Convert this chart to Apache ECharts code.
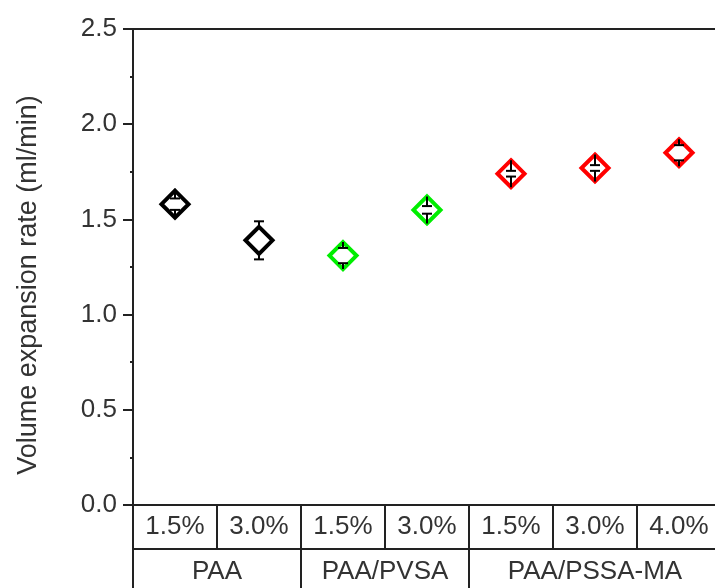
<!DOCTYPE html>
<html>
<head>
<meta charset="utf-8">
<script src="https://cdn.jsdelivr.net/npm/echarts@6/dist/echarts.min.js"></script>
<style>
  html, body { margin: 0; padding: 0; background: #ffffff; }
  #chart { width: 715px; height: 588px; }
</style>
</head>
<body>
<div id="chart"></div>
<script>
// Polymer concentration per sample (first table row)
const concentrations = ['1.5%', '3.0%', '1.5%', '3.0%', '1.5%', '3.0%', '4.0%'];
// Polymer groups (second table row) and how many samples each spans
const groups = ['PAA', 'PAA/PVSA', 'PAA/PSSA-MA'];
const groupSizes = [2, 2, 3];
// Volume expansion rate (ml/min) and its error
const rates = [1.58, 1.39, 1.31, 1.55, 1.74, 1.77, 1.85];
const rateErrors = [0.03, 0.10, 0.04, 0.02, 0.015, 0.015, 0.04];
// Y axis ticks
const yTickValues = [0, 0.5, 1.0, 1.5, 2.0, 2.5];

const groupColors = ['#000000', '#00ee00', '#ff0000'];
const FONT = 'Liberation Sans';
const TEXT_COLOR = '#333333';
const LINE_COLOR = '#222222';
const SYMBOL = 27;

// which group each sample belongs to
const groupOf = [];
groupSizes.forEach((n, g) => { for (let i = 0; i < n; i++) groupOf.push(g); });

const points = rates.map((v, i) => ({
  value: [i, v],
  itemStyle: { borderColor: groupColors[groupOf[i]] }
}));
const errorData = rates.map((v, i) => [i, v, rateErrors[i]]);

const chart = echarts.init(document.getElementById('chart'), null, { renderer: 'canvas' });

chart.setOption({
  animation: false,
  backgroundColor: '#ffffff',
  grid: {
    left: 133, right: -6, top: 29, bottom: 83,
    show: true, borderColor: LINE_COLOR, borderWidth: 2,
    containLabel: false, outerBoundsMode: 'none'
  },
  xAxis: {
    type: 'category',
    data: concentrations,
    boundaryGap: true,
    axisLine: { show: true, lineStyle: { color: LINE_COLOR, width: 2 } },
    axisTick: { show: true, inside: false, length: 44, alignWithLabel: false, interval: 0,
      lineStyle: { color: LINE_COLOR, width: 2 } },
    axisLabel: { margin: 9, fontSize: 26, fontFamily: FONT, color: TEXT_COLOR, interval: 0 },
    splitLine: { show: false }
  },
  yAxis: {
    type: 'value',
    min: yTickValues[0],
    max: yTickValues[yTickValues.length - 1],
    interval: yTickValues[1] - yTickValues[0],
    name: 'Volume expansion rate (ml/min)',
    nameLocation: 'middle',
    nameRotate: 90,
    nameGap: 91,
    nameTextStyle: { fontSize: 27, fontFamily: FONT, color: TEXT_COLOR, padding: [0, 36, 0, 0] },
    axisLine: { show: true, lineStyle: { color: LINE_COLOR, width: 2 } },
    axisTick: { show: true, inside: false, length: 10, lineStyle: { color: LINE_COLOR, width: 2 } },
    minorTick: { show: true, splitNumber: 2, length: 3, lineStyle: { color: LINE_COLOR, width: 2 } },
    axisLabel: { margin: 16, fontSize: 26, fontFamily: FONT, color: TEXT_COLOR,
      formatter: v => v.toFixed(1) },
    splitLine: { show: false }
  },
  series: [
    {
      type: 'scatter',
      data: points,
      symbol: 'diamond',
      symbolSize: SYMBOL,
      itemStyle: { color: '#ffffff', borderWidth: 4, opacity: 1 },
      z: 3
    },
    {
      // error bars: caps at value ± error, whisker drawn from cap to the symbol tip
      type: 'custom',
      data: errorData,
      z: 4,
      silent: true,
      renderItem: (params, api) => {
        const x = api.value(0), y = api.value(1), e = api.value(2);
        const c = api.coord([x, y]);
        const hi = api.coord([x, y + e])[1];
        const lo = api.coord([x, y - e])[1];
        const half = SYMBOL / 2;
        const capW = 5;
        const style = { stroke: '#000000', lineWidth: 2 };
        return {
          type: 'group',
          children: [
            { type: 'line', shape: { x1: c[0] - capW, y1: hi, x2: c[0] + capW, y2: hi }, style },
            { type: 'line', shape: { x1: c[0], y1: hi, x2: c[0], y2: c[1] - half }, style },
            { type: 'line', shape: { x1: c[0] - capW, y1: lo, x2: c[0] + capW, y2: lo }, style },
            { type: 'line', shape: { x1: c[0], y1: lo, x2: c[0], y2: c[1] + half }, style }
          ]
        };
      }
    },
    {
      // second table row: polymer groups under the concentration row
      type: 'custom',
      data: [[0, 0]],
      clip: false,
      silent: true,
      z: 5,
      renderItem: (params, api) => {
        const bw = api.size([1, 0])[0];
        const origin = api.coord([0, 0]);
        const left = origin[0] - bw / 2;
        const rowH = 44;
        const rowTop = origin[1] + rowH;
        const total = concentrations.length;
        const style = { stroke: LINE_COLOR, lineWidth: 2 };
        const children = [
          { type: 'line', shape: { x1: left, y1: rowTop, x2: left + total * bw, y2: rowTop }, style },
          { type: 'line', shape: { x1: left, y1: origin[1], x2: left, y2: rowTop + 60 }, style }
        ];
        let start = 0;
        groups.forEach((name, g) => {
          const end = start + groupSizes[g];
          const xr = left + end * bw;
          children.push({ type: 'line', shape: { x1: xr, y1: rowTop, x2: xr, y2: rowTop + 60 }, style });
          children.push({
            type: 'text',
            style: {
              text: name, x: left + (start + end) / 2 * bw, y: rowTop + 23,
              align: 'center', verticalAlign: 'middle',
              fontSize: 26, fontFamily: FONT, fill: TEXT_COLOR
            }
          });
          start = end;
        });
        return { type: 'group', children };
      }
    }
  ]
});
</script>
</body>
</html>
